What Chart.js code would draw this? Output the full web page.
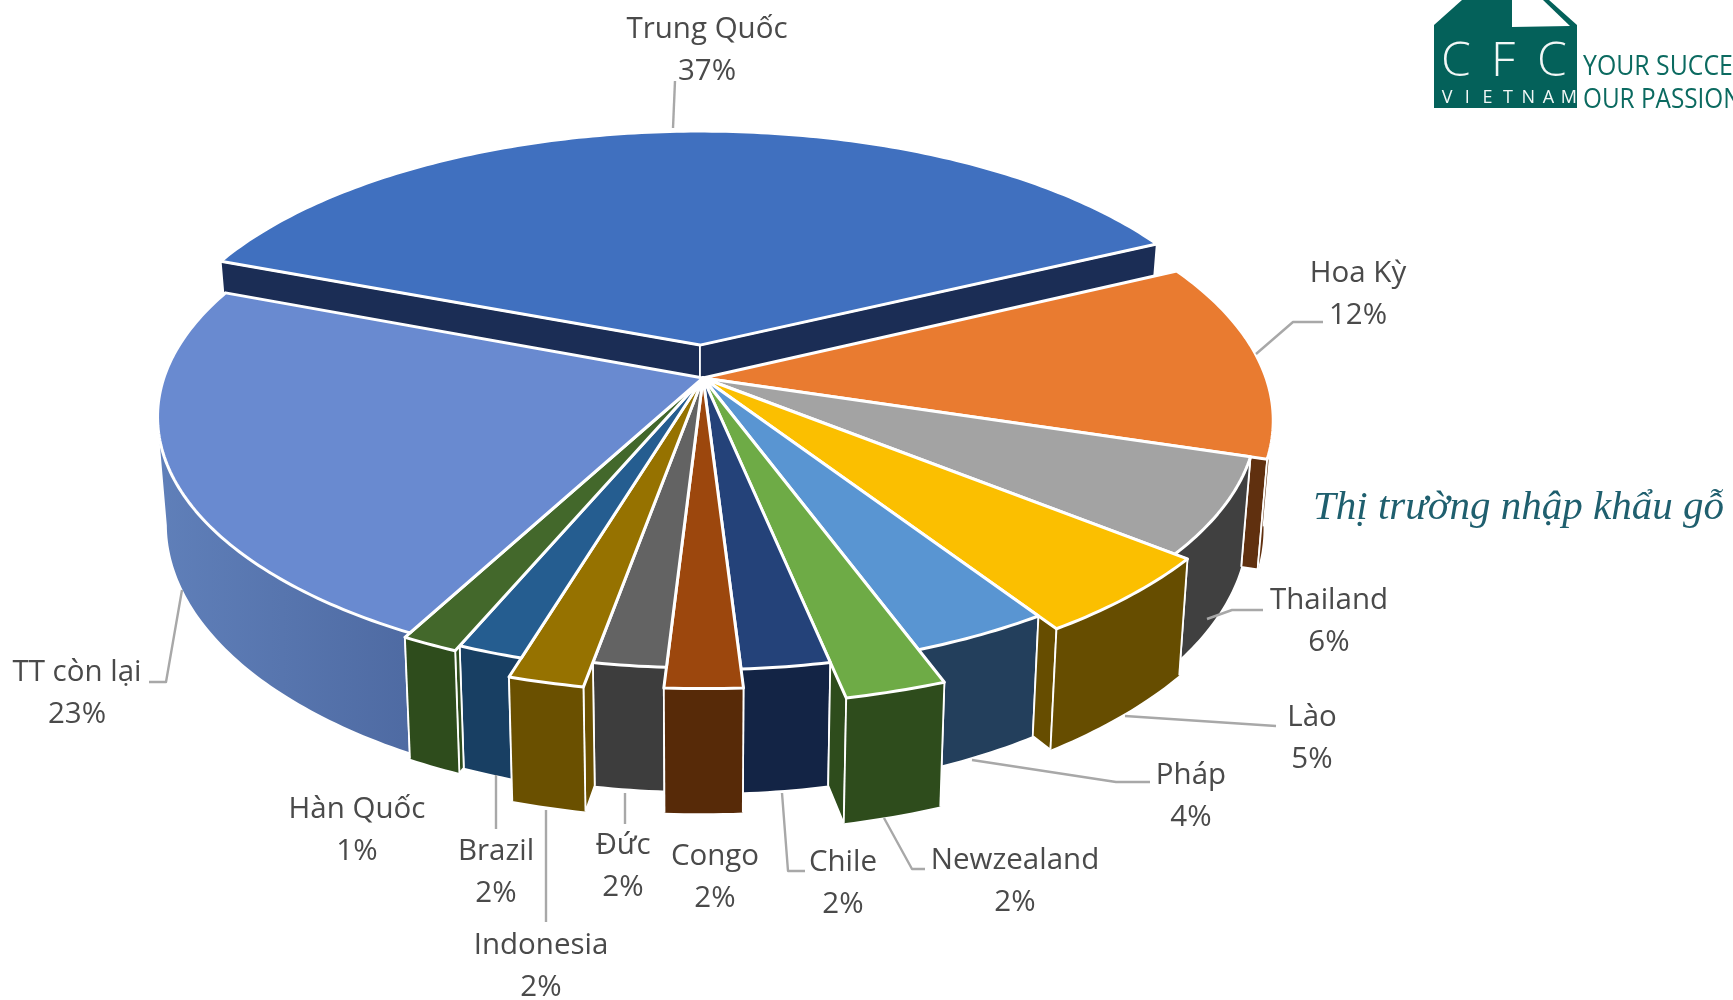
<!DOCTYPE html>
<html lang="vi">
<head>
<meta charset="utf-8">
<title>Thị trường nhập khẩu gỗ</title>
<style>html,body{margin:0;padding:0;background:#fff;overflow:hidden}canvas{display:block}</style>
<script src="https://cdn.jsdelivr.net/npm/chart.js@4/dist/chart.umd.min.js"></script>
</head>
<body>
<canvas id="c" width="1733" height="1000"></canvas>
<script>
const categories = ["Trung Quốc","Hoa Kỳ","Thailand","Lào","Pháp","Newzealand","Chile","Congo","Đức","Indonesia","Brazil","Hàn Quốc","TT còn lại"];
const shares = [37,12,6,5,3.61,2.36,2.3,1.9,1.9,1.83,1.7,1.45,23.05];
const topColors = ["#4070BF","#E97B30","#A3A3A3","#FBBF00","#5995D2","#6EAB46","#244279","#9C470D","#636363","#967200","#255D90","#43682B","#698AD0"];
const sideColors = ["#1B2D55","#60300F","#404040","#664D00","#233F5C","#2E4C1C","#132445","#572A08","#3D3D3D","#6A5000","#183F63","#2E4C1C","#5778B2"];
const outerScale = [1.04,1.06,1.03,1.055,1.008,1.11,1.005,1.06,1.0,1.072,1.014,1.03,1.015];
const sliceOffset = [48,0,0,0,0,0,0,0,0,0,0,0,0];

// label layout, in page pixels: text centre of first line, and leader polyline
const labelLayout = [
 {x:707,y:30,leader:[[673,128],[675,81]]},
 {x:1358,y:274,leader:[[1256,354],[1293,322],[1323,322]]},
 {x:1329,y:601,leader:[[1207,619],[1232,610],[1263,610]]},
 {x:1312,y:718,leader:[[1125,716],[1276,726]]},
 {x:1191,y:776,leader:[[972,760],[1116,782],[1150,782]]},
 {x:1015,y:861,leader:[[884,818],[912,869],[925,869]]},
 {x:843,y:863,leader:[[782,793],[788,871],[805,871]]},
 {x:715,y:857,leader:null},
 {x:623,y:846,leader:[[625,793],[625,824]]},
 {x:541,y:946,leader:[[546,810],[546,922]]},
 {x:496,y:852,leader:[[496,775],[496,829]]},
 {x:357,y:810,leader:null},
 {x:77,y:673,leader:[[182,590],[166,682],[149,682]]}
];
const LINE_H = 42;
const TILT = {xScale:1.507, yScale:0.70, persp:0.149, depth:105, floorShrink:0.983};

function project(arc, r, ang, ou, ov){
  const R = arc.outerRadius, k = TILT.persp;
  const u = r*Math.cos(ang)+ou, v = r*Math.sin(ang)+ov;
  const s = 1/(1-k*v);
  const x = arc.x + u*s*R*TILT.xScale, y = arc.y + v*s*R*TILT.yScale;
  return {x, y, bx: arc.x+(x-arc.x)*TILT.floorShrink, by: y+TILT.depth*s, v};
}

const pie3d = {
  id:'pie3d',
  beforeDatasetsDraw(chart){
    const ctx = chart.ctx;
    const arcs = chart.getDatasetMeta(0).data;
    const count = arcs.length;
    const info = arcs.map((arc,i)=>{
      const mid=(arc.startAngle+arc.endAngle)/2;
      const o=(arc.options.offset||0)/arc.outerRadius;
      const ou=Math.cos(mid)*o, ov=Math.sin(mid)*o, rs=outerScale[i];
      const n=Math.max(2,Math.ceil((arc.endAngle-arc.startAngle)/0.015));
      const rim=[];
      for(let j=0;j<=n;j++){ rim.push(project(arc,rs,arc.startAngle+(arc.endAngle-arc.startAngle)*j/n,ou,ov)); }
      const tip=project(arc,0,0,ou,ov);
      const vm=Math.sin(mid);
      return {arc,i,rim,tip,ou,ov,rs,key:vm<0.6?vm-10:rs};
    });
    const poly=(pts)=>{ctx.beginPath();pts.forEach((p,j)=>j?ctx.lineTo(p[0],p[1]):ctx.moveTo(p[0],p[1]));ctx.closePath();};
    ctx.save();
    ctx.lineJoin='round';
    [...info].sort((a,b)=>a.key-b.key).forEach(s=>{
      const fill=sideColors[s.i];
      const A0=s.arc.startAngle, A1=s.arc.endAngle;
      // radial walls: only the stretch standing proud of the neighbouring slice
      ctx.strokeStyle='#fff'; ctx.lineWidth=1.8;
      const sides=[[A0,(s.i+count-1)%count,s.rim[0]],[A1,(s.i+1)%count,s.rim[s.rim.length-1]]];
      for(const [ang,nb,e] of sides){
        let rn;
        if(s.i===0) rn=0;
        else if(nb===0) continue;
        else { rn=outerScale[nb]; if(rn>=s.rs) continue; }
        const q=project(s.arc,rn,ang,s.ou,s.ov);
        poly([[q.x,q.y],[e.x,e.y],[e.bx,e.by],[q.bx,q.by]]);
        ctx.fillStyle=fill; ctx.fill(); ctx.stroke();
      }
      // outer wall, from the silhouette point round to the front
      const front=s.rim.filter(p=>p.v>=TILT.persp*s.rs);
      if(front.length>1){
        let style=fill;
        if(s.i===12){
          const e=s.rim[0];
          style=ctx.createLinearGradient(e.x-260,0,e.x+5,0);
          style.addColorStop(0,'#6080BA'); style.addColorStop(1,'#4E6AA2');
        }
        poly([...front.map(p=>[p.x,p.y]),...[...front].reverse().map(p=>[p.bx,p.by])]);
        ctx.fillStyle=style; ctx.fill();
        ctx.strokeStyle='#fff'; ctx.lineWidth=1.8;
        for(const e of [front[0],front[front.length-1]]){
          if(s.i===12 && e===front[front.length-1]) continue;
          ctx.beginPath(); ctx.moveTo(e.x,e.y); ctx.lineTo(e.bx,e.by); ctx.stroke();
        }
      }
    });
    // top faces
    info.forEach(s=>{
      poly([[s.tip.x,s.tip.y],...s.rim.map(p=>[p.x,p.y])]);
      ctx.fillStyle=s.arc.options.backgroundColor; ctx.fill();
      ctx.strokeStyle=s.arc.options.borderColor; ctx.lineWidth=s.arc.options.borderWidth; ctx.stroke();
    });
    ctx.restore();
    return false;
  },
  afterDraw(chart){
    const ctx=chart.ctx;
    ctx.save();
    // leaders
    ctx.strokeStyle='#A8A8A8'; ctx.lineWidth=2.4; ctx.lineJoin='round';
    labelLayout.forEach(l=>{
      if(!l.leader) return;
      ctx.beginPath(); l.leader.forEach((p,j)=>j?ctx.lineTo(p[0],p[1]):ctx.moveTo(p[0],p[1])); ctx.stroke();
    });
    // labels
    ctx.fillStyle='#4A4A4A'; ctx.textAlign='center'; ctx.textBaseline='middle';
    ctx.font='29.5px "Open Sans", sans-serif';
    chart.data.labels.forEach((name,i)=>{
      const l=labelLayout[i];
      ctx.fillText(name,l.x,l.y);
      ctx.fillText(Math.round(chart.data.datasets[0].data[i])+'%',l.x,l.y+LINE_H);
    });
    // side caption
    ctx.textAlign='left'; ctx.textBaseline='alphabetic';
    ctx.fillStyle='#1F5F6E'; ctx.font='italic 41px "Liberation Serif", serif';
    ctx.fillText('Thị trường nhập khẩu gỗ',1313,519);
    // logo
    ctx.fillStyle='#04615A';
    ctx.beginPath(); [[1462,0],[1434,25],[1434,108],[1577,108],[1577,25],[1549,0]].forEach((p,j)=>j?ctx.lineTo(p[0],p[1]):ctx.moveTo(p[0],p[1])); ctx.closePath(); ctx.fill();
    ctx.fillStyle='#fff';
    ctx.beginPath(); [[1512,0],[1512,27],[1570,26],[1543,0]].forEach((p,j)=>j?ctx.lineTo(p[0],p[1]):ctx.moveTo(p[0],p[1])); ctx.closePath(); ctx.fill();
    ctx.fillStyle='#F2F7F6'; ctx.textAlign='center'; ctx.textBaseline='alphabetic';
    ctx.font='300 48px "Open Sans", sans-serif';
    ctx.fillText('C',1456,76); ctx.fillText('F',1503,76); ctx.fillText('C',1552,76);
    ctx.font='18px "Open Sans", sans-serif';
    'VIETNAM'.split('').forEach((c,j)=>ctx.fillText(c,1447+j*20.3,103));
    ctx.textAlign='left'; ctx.fillStyle='#0B6A60';
    ctx.font='27px "Open Sans", sans-serif';
    const cond=(t,x,y,sx)=>{ctx.save();ctx.translate(x,y);ctx.scale(sx,1);ctx.fillText(t,0,0);ctx.restore();};
    cond('YOUR SUCCESS',1583,75,0.92);
    cond('OUR PASSION',1583,108,0.9);
    ctx.restore();
  }
};

new Chart(document.getElementById('c'),{
  type:'pie',
  data:{labels:categories,datasets:[{data:shares,backgroundColor:topColors,borderColor:'#fff',borderWidth:3,offset:sliceOffset}]},
  options:{
    responsive:false,animation:false,rotation:-69,
    layout:{padding:{left:0,top:0,right:327,bottom:244}},
    plugins:{legend:{display:false},tooltip:{enabled:false}}
  },
  plugins:[pie3d]
});
</script>
</body>
</html>
